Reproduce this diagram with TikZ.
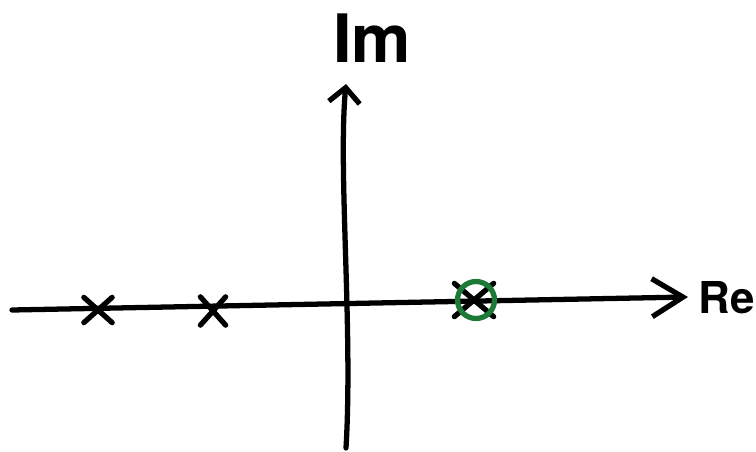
\documentclass[tikz,border=0pt]{standalone}
\usepackage{fontspec}
\setsansfont{TeX Gyre Heros}
\usepackage{tikz}
\usetikzlibrary{arrows.meta,shapes.misc}
\definecolor{zeroG}{HTML}{1C7A36}
\definecolor{inkK}{HTML}{000000}

\begin{document}
\begin{tikzpicture}[x=0.02cm, y=-0.02cm,
    axisline/.style={inkK, line width=3pt, line cap=round, line join=round},
    polemark/.style={cross out, draw=inkK, line width=3pt, line cap=round, inner sep=0pt},
    zeromark/.style={circle, draw=zeroG, line width=3pt, inner sep=0pt, minimum size=0.74cm},
    axislabel/.style={inkK, font=\fontsize{38}{42}\selectfont\sffamily\bfseries, inner sep=0pt}
]
\useasboundingbox (0,0) rectangle (756,452);
% ---- AXES ----
\coordinate (reL) at (12,310);
\coordinate (reR) at (688,297);
\coordinate (imB) at (346,448);
\coordinate (imT) at (346,84);
\draw[axisline, -{Straight Barb[length=0.62cm, width=0.76cm, line width=3pt]}] (reL) -- (reR);
\draw[axisline, -{Straight Barb[length=0.3cm, width=0.62cm, line width=3pt]}] (imB) .. controls (353,330) and (338,170) .. (imT);

% ---- LABELS ----
\node[axislabel] (lIm) at (372,38) {Im};
\node[axislabel, font=\fontsize{25}{29}\selectfont\sffamily\bfseries, anchor=west] (lRe) at (698,298) {Re};

% ---- POLES ----
\node[polemark, minimum width=0.46cm, minimum height=0.4cm] (p1) at (98,310) {};
\node[polemark, minimum width=0.4cm, minimum height=0.46cm] (p2) at (213,311) {};
\node[polemark, minimum width=0.68cm, minimum height=0.56cm] (p3) at (474,300) {};

% ---- ZERO ----
\node[zeromark] (z1) at (476,300) {};
\end{tikzpicture}
\end{document}
